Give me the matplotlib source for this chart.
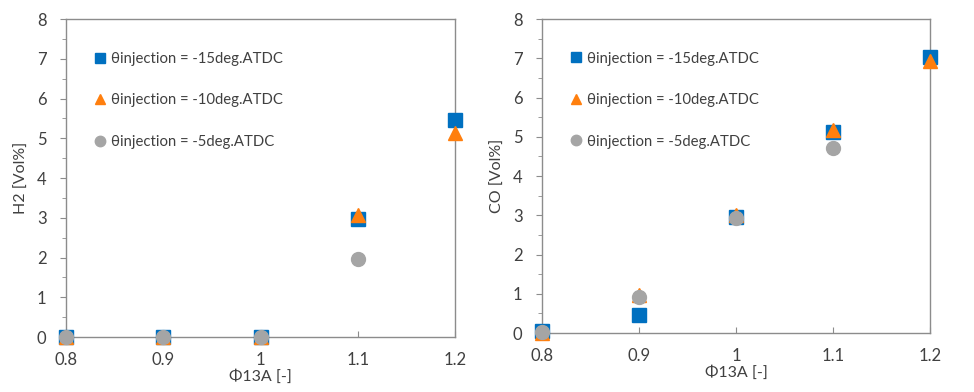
import matplotlib
matplotlib.use("Agg")
import matplotlib.pyplot as plt
from matplotlib.ticker import MultipleLocator

plt.rcParams['font.family'] = ['Lato', 'DejaVu Sans']

phi = [0.8, 0.9, 1.0, 1.1, 1.2]
phi_5 = [0.8, 0.9, 1.0, 1.1]

h2_m15 = [0.0, 0.0, 0.0, 2.97, 5.45]
h2_m10 = [0.0, 0.0, 0.0, 3.08, 5.12]
h2_m5 = [0.0, 0.0, 0.0, 1.95]

co_m15 = [0.05, 0.45, 2.95, 5.12, 7.02]
co_m10 = [0.0, 0.97, 3.0, 5.18, 6.93]
co_m5 = [0.03, 0.92, 2.93, 4.72]

labels = ["θinjection = -15deg.ATDC", "θinjection = -10deg.ATDC", "θinjection = -5deg.ATDC"]
xticks = [0.8, 0.9, 1.0, 1.1, 1.2]
xticklabels = ["0.8", "0.9", "1", "1.1", "1.2"]

blue = "#0070C0"
orange = "#FF7F0E"
gray = "#A5A5A5"
txt = "#404040"
spine = "#8C8C8C"

fig = plt.figure(figsize=(9.74, 3.92), dpi=100)
ax1 = fig.add_axes([66/974, 1-337/392, (455-66)/974, (337-19)/392])
ax2 = fig.add_axes([542/974, 1-333/392, (930-542)/974, (333-19)/392])

def draw(ax, x15, y15, x10, y10, x5, y5, ylabel):
    ax.plot(x15, y15, 's', color=blue, ms=10.5, clip_on=False, zorder=3, label=labels[0])
    ax.plot(x10, y10, '^', color=orange, ms=10.5, clip_on=False, zorder=4, label=labels[1])
    ax.plot(x5, y5, 'o', color=gray, ms=10, clip_on=False, zorder=5, label=labels[2])
    ax.set_xlim(0.8, 1.2)
    ax.set_ylim(0, 8)
    ax.set_xticks(xticks)
    ax.set_xticklabels(xticklabels)
    ax.yaxis.set_major_locator(MultipleLocator(1))
    ax.yaxis.set_minor_locator(MultipleLocator(0.5))
    ax.tick_params(axis='x', direction='in', length=4, color=spine, labelsize=12, labelcolor=txt, pad=11)
    ax.tick_params(axis='y', which='major', direction='out', length=4, color=spine, labelsize=12, labelcolor=txt, pad=10)
    ax.tick_params(axis='y', which='minor', direction='out', length=3, color=spine)
    for s in ax.spines.values():
        s.set_color(spine)
        s.set_linewidth(1.0)
    ax.set_xlabel("Φ13A [-]", fontsize=11.5, color=txt, labelpad=1)
    ax.set_ylabel(ylabel, fontsize=11.5, color=txt, labelpad=6)
    leg = ax.legend(loc='upper left', bbox_to_anchor=(0.05, 0.915), frameon=False,
                    fontsize=10.7, labelspacing=1.85, handletextpad=0.1, handlelength=1.2,
                    markerscale=0.75, labelcolor=txt, borderaxespad=0)
    return leg

draw(ax1, phi, h2_m15, phi, h2_m10, phi_5, h2_m5, "H2 [Vol%]")
draw(ax2, phi, co_m15, phi, co_m10, phi_5, co_m5, "CO [Vol%]")

fig.savefig("out.png", dpi=100)
